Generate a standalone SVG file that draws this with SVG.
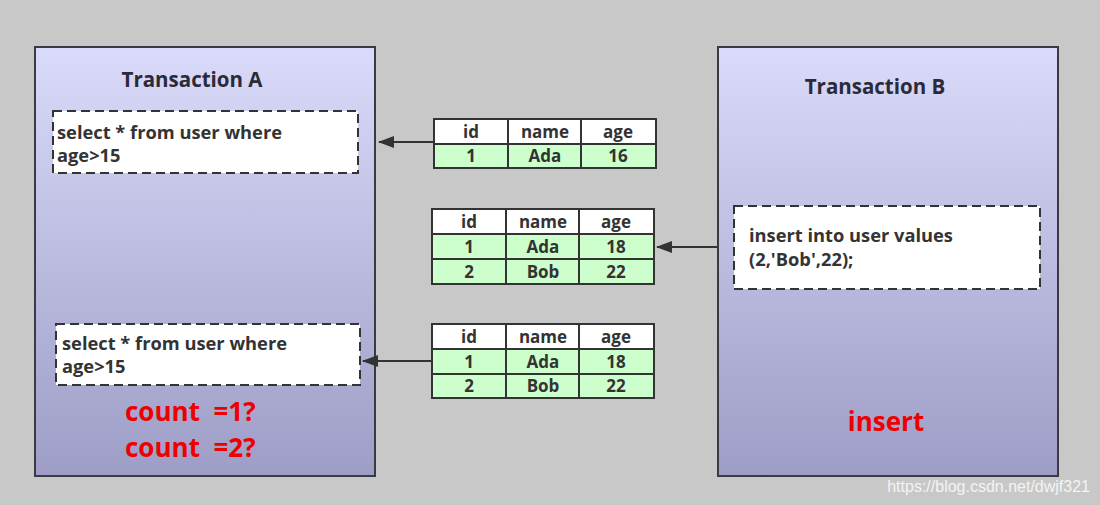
<svg xmlns="http://www.w3.org/2000/svg" width="1100" height="505" viewBox="0 0 1100 505">
<defs>
<linearGradient id="tx" x1="0" y1="0" x2="0" y2="1">
<stop offset="0" stop-color="#dadafa"/>
<stop offset="1" stop-color="#9d9dc6"/>
</linearGradient>
<marker id="ah" markerWidth="16" markerHeight="12" refX="15" refY="6" orient="auto" markerUnits="userSpaceOnUse">
<path d="M16,6 L0,0 L0,12 Z" fill="#333"/>
</marker>
<style>
.tx{fill:url(#tx);stroke:#3a3a44;stroke-width:2}
.q{fill:#fff;stroke:#333;stroke-width:2;stroke-dasharray:9,5}
.title{font-family:"Open Sans","DejaVu Sans",sans-serif;font-weight:bold;font-size:20.5px;fill:#2a2a38;text-anchor:middle}
.sql{font-family:"Open Sans","DejaVu Sans",sans-serif;font-weight:bold;font-size:18.3px;fill:#333}
.red{font-family:"Open Sans","DejaVu Sans",sans-serif;font-weight:bold;font-size:26px;fill:#ee0000}
.hd{fill:#fff;stroke:#333;stroke-width:2}
.rw{fill:#ccffcc;stroke:#333;stroke-width:2}
.cell{font-family:"Open Sans","DejaVu Sans",sans-serif;font-weight:bold;font-size:17px;fill:#333;text-anchor:middle}
.conn{stroke:#333;stroke-width:2;fill:none}
.wm{font-family:"Liberation Sans",Arial,sans-serif;font-size:16px;fill:#f4f4f4}
</style>
</defs>
<rect width="1100" height="505" fill="#c8c8c8"/>

<g id="transactionA">
<rect class="tx" x="35" y="47" width="340" height="429"/>
<text class="title" x="192" y="87">Transaction A</text>
</g>
<g id="queryA1">
<rect class="q" x="53" y="111" width="305" height="62"/>
<text class="sql" x="57" y="139">select * from user where</text>
<text class="sql" x="57" y="162">age&gt;15</text>
</g>
<g id="queryA2">
<rect class="q" x="56" y="324" width="304" height="61"/>
<text class="sql" x="62" y="350">select * from user where</text>
<text class="sql" x="62" y="373">age&gt;15</text>
</g>
<g id="countLabel">
<text class="red" x="125" y="421">count&#160; =1?</text>
<text class="red" x="125" y="457">count&#160; =2?</text>
</g>

<g id="transactionB">
<rect class="tx" x="718" y="47" width="340" height="429"/>
<text class="title" x="875" y="94">Transaction B</text>
</g>
<g id="insertB">
<rect class="q" x="734" y="206" width="306" height="83"/>
<text class="sql" x="749" y="242">insert into user values</text>
<text class="sql" x="749" y="266">(2,'Bob',22);</text>
</g>
<g id="insertLabel">
<text class="red" x="886" y="431" text-anchor="middle" font-size="29">insert</text>
</g>

<g id="table1">
<rect class="hd" x="434" y="119" width="74" height="25"/>
<rect class="hd" x="508" y="119" width="73" height="25"/>
<rect class="hd" x="581" y="119" width="75" height="25"/>
<rect class="rw" x="434" y="144" width="74" height="24"/>
<rect class="rw" x="508" y="144" width="73" height="24"/>
<rect class="rw" x="581" y="144" width="75" height="24"/>
<text class="cell" x="471" y="138">id</text>
<text class="cell" x="545" y="138">name</text>
<text class="cell" x="618" y="138">age</text>
<text class="cell" x="471" y="162">1</text>
<text class="cell" x="545" y="162">Ada</text>
<text class="cell" x="618" y="162">16</text>
</g>

<g id="table2">
<rect class="hd" x="432" y="209" width="74" height="25"/>
<rect class="hd" x="506" y="209" width="73" height="25"/>
<rect class="hd" x="579" y="209" width="75" height="25"/>
<rect class="rw" x="432" y="234" width="74" height="25"/>
<rect class="rw" x="506" y="234" width="73" height="25"/>
<rect class="rw" x="579" y="234" width="75" height="25"/>
<rect class="rw" x="432" y="259" width="74" height="25"/>
<rect class="rw" x="506" y="259" width="73" height="25"/>
<rect class="rw" x="579" y="259" width="75" height="25"/>
<text class="cell" x="469" y="228">id</text>
<text class="cell" x="543" y="228">name</text>
<text class="cell" x="616" y="228">age</text>
<text class="cell" x="469" y="253">1</text>
<text class="cell" x="543" y="253">Ada</text>
<text class="cell" x="616" y="253">18</text>
<text class="cell" x="469" y="278">2</text>
<text class="cell" x="543" y="278">Bob</text>
<text class="cell" x="616" y="278">22</text>
</g>

<g id="table3">
<rect class="hd" x="432" y="324" width="74" height="25"/>
<rect class="hd" x="506" y="324" width="73" height="25"/>
<rect class="hd" x="579" y="324" width="75" height="25"/>
<rect class="rw" x="432" y="349" width="74" height="25"/>
<rect class="rw" x="506" y="349" width="73" height="25"/>
<rect class="rw" x="579" y="349" width="75" height="25"/>
<rect class="rw" x="432" y="374" width="74" height="24"/>
<rect class="rw" x="506" y="374" width="73" height="24"/>
<rect class="rw" x="579" y="374" width="75" height="24"/>
<text class="cell" x="469" y="343">id</text>
<text class="cell" x="543" y="343">name</text>
<text class="cell" x="616" y="343">age</text>
<text class="cell" x="469" y="368">1</text>
<text class="cell" x="543" y="368">Ada</text>
<text class="cell" x="616" y="368">18</text>
<text class="cell" x="469" y="392">2</text>
<text class="cell" x="543" y="392">Bob</text>
<text class="cell" x="616" y="392">22</text>
</g>

<g id="connectors">
<line class="conn" x1="434" y1="142" x2="379" y2="142" marker-end="url(#ah)"/>
<line class="conn" x1="718" y1="247" x2="657" y2="247" marker-end="url(#ah)"/>
<line class="conn" x1="432" y1="361" x2="363" y2="361" marker-end="url(#ah)"/>
</g>

<text class="wm" x="1090" y="492" text-anchor="end">https://blog.csdn.net/dwjf321</text>
</svg>
